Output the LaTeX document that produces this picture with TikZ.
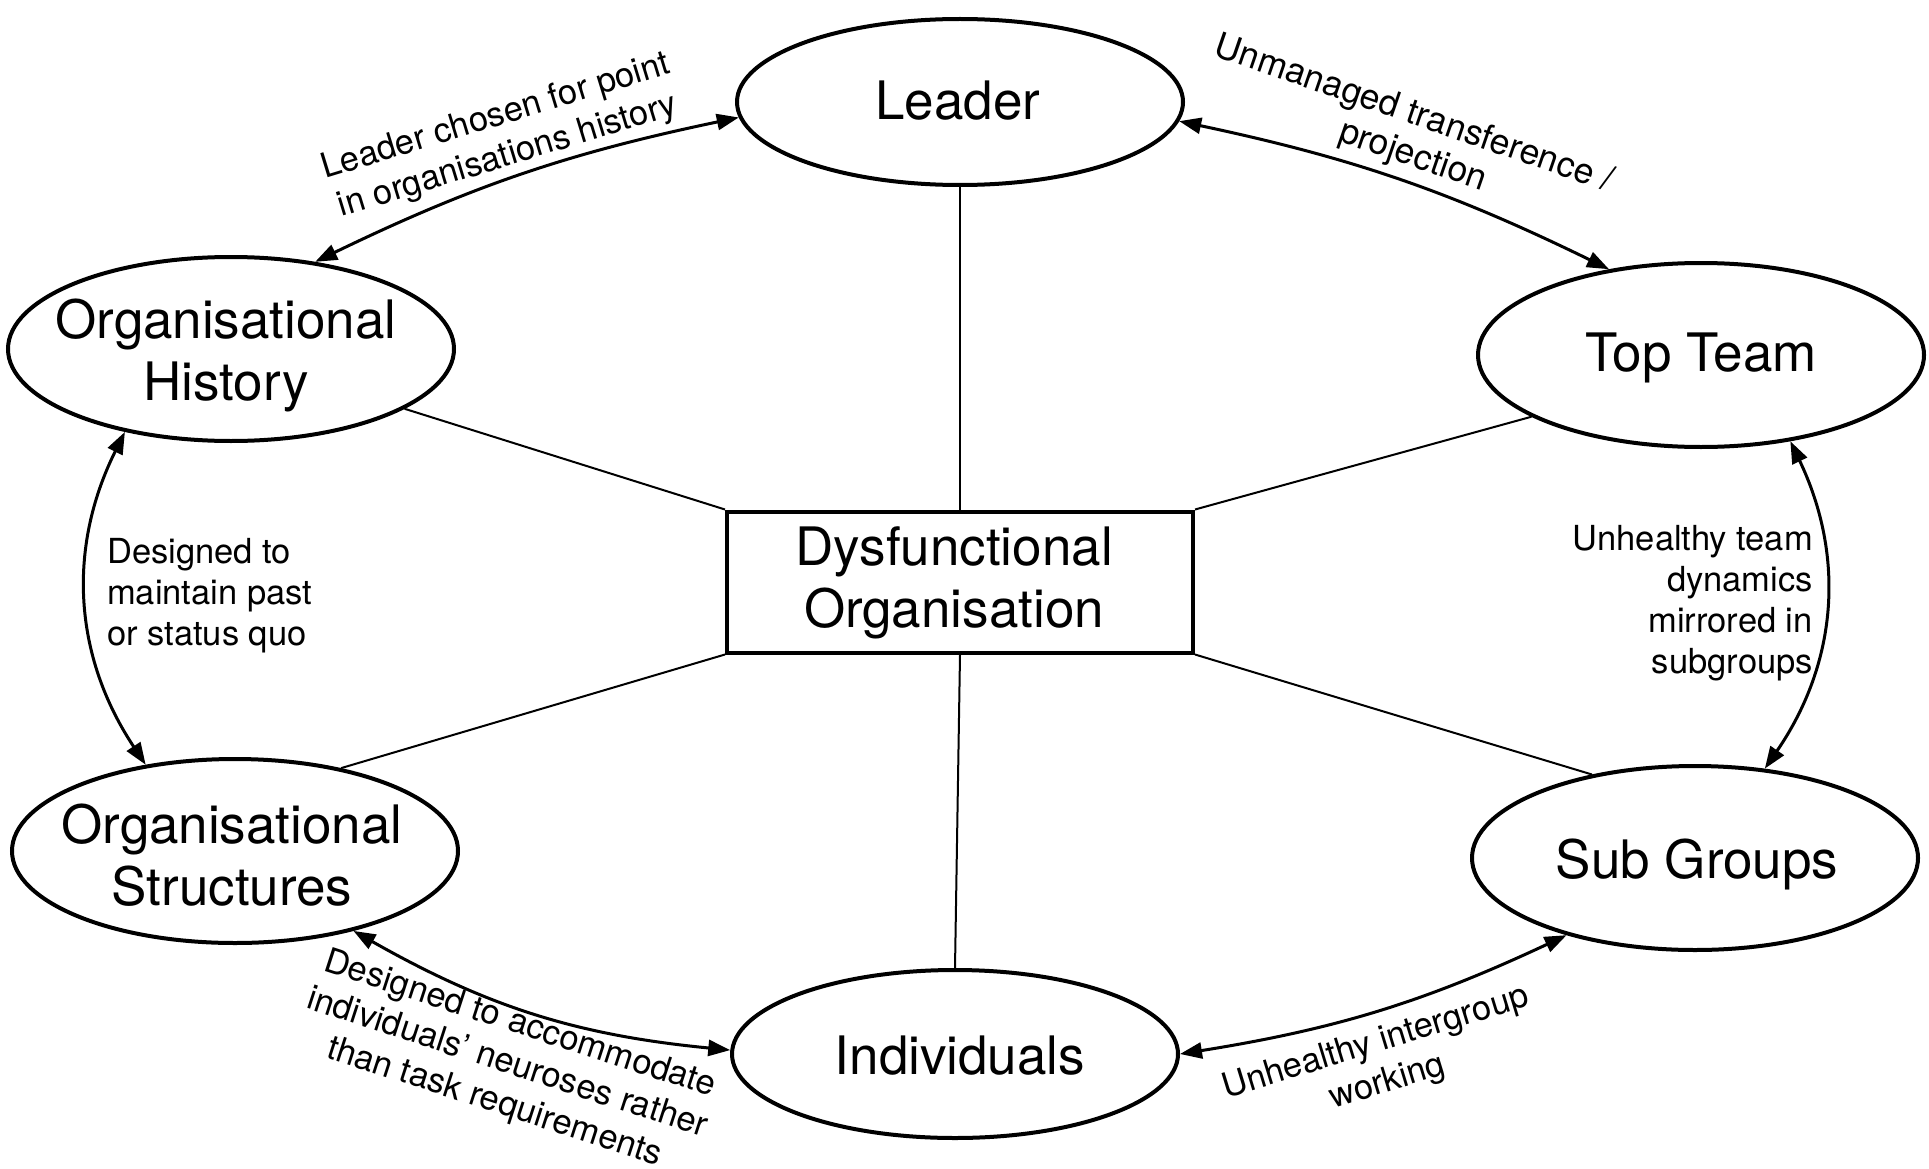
\documentclass[tikz,border=0pt]{standalone}
\usepackage{fontspec}
\setmainfont{TeX Gyre Heros}
\usetikzlibrary{arrows.meta,shapes.geometric}
\begin{document}
\begin{tikzpicture}[x=1pt,y=-1pt,
  ell/.style={ellipse, draw, line width=4pt, minimum width=446pt, minimum height=184pt, inner sep=0pt},
  big/.style={font=\fontsize{53}{62}\selectfont, align=center, inner sep=0pt},
  small/.style={font=\fontsize{34.5}{41}\selectfont, inner sep=0pt},
  spoke/.style={line width=2pt},
  link/.style={line width=3pt, {Triangle[length=22pt,width=16pt]}-{Triangle[length=22pt,width=16pt]}},
]
\useasboundingbox (0,0) rectangle (1929,1169);

\node[ell, minimum height=166pt] (leader) at (960,102) {};
\node[big] (leaderT) at (958,101) {Leader};
\node[ell] (top) at (1701,355) {};
\node[big] (topT) at (1701,358) {Top Team};
\node[ell] (hist) at (231,349) {};
\node[big] (histT) at (226,355) {Organisational\\History};
\node[ell] (strc) at (235,851) {};
\node[big] (strcT) at (232,855) {Organisational\\Structures};
\node[ell] (subg) at (1695,858) {};
\node[big] (subgT) at (1697,864) {Sub Groups};
\node[ell, minimum height=168pt] (indiv) at (955,1054) {};
\node[big] (indivT) at (960,1056) {Individuals};

\node[draw, line width=4pt, minimum width=466pt, minimum height=141pt] (box) at (960,582) {};
\node[big] (boxT) at (954,583) {Dysfunctional\\Organisation};

\draw[spoke] (leader.south) -- (box.north);
\draw[spoke] (box.south) -- (indiv.north);
\draw[spoke] (box.north west) -- (hist.341);
\draw[spoke] (box.north east) -- (top.200);
\draw[spoke] (box.south west) -- (strc.38);
\draw[spoke] (box.south east) -- (subg.141);

\draw[link] (hist.46) to[bend left=7] (leader.184);
\draw[link] (leader.355) to[bend left=7] (top.137);
\draw[link] (hist.218) to[bend right=30] (strc.136);
\draw[link] (top.316) to[bend left=30] (subg.52);
\draw[link] (strc.326) to[bend right=12] (indiv.179);
\draw[link] (indiv.0) to[bend right=8] (subg.211);

\node[small, align=center, rotate=17] (l1) at (502,137) {Leader chosen for point\\in organisations history};
\node[small, align=center, rotate=-19, font=\fontsize{35.5}{40}\selectfont] (l2) at (1407,134) {Unmanaged transference /\\\hspace*{26pt}projection};
\node[small, align=left, anchor=north west] (l3) at (107,538) {Designed to\\maintain past\\or status quo};
\node[small, align=right, anchor=north east] (l4) at (1813,525) {Unhealthy team\\dynamics\\mirrored in\\subgroups};
\node[small, align=center, rotate=-18] (l5) at (507,1064) {Designed to accommodate\\individuals’ neuroses rather\\than task requirements};
\node[small, align=center, rotate=17] (l6) at (1382,1063) {Unhealthy intergroup\\working};
\end{tikzpicture}
\end{document}
